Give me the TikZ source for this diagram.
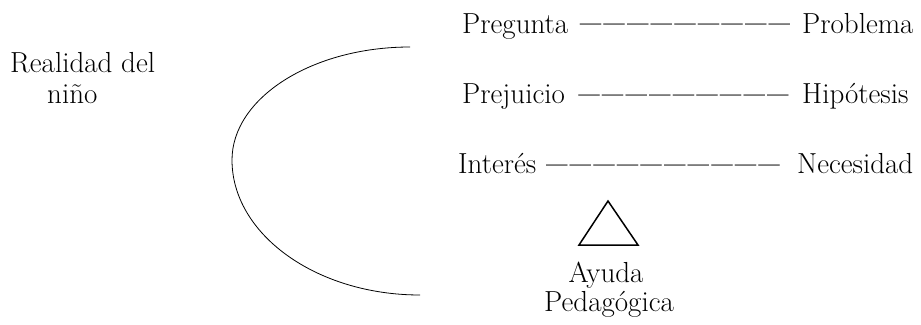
\documentclass[tikz,border=0pt]{standalone}
\usepackage{graphicx}
\newcommand{\emd}{\makebox[23.6pt][c]{\resizebox{21.5pt}{\height}{\bfseries ---}}}
\begin{document}
\begin{tikzpicture}[x=1pt,y=-1pt,
  lbl/.style={inner sep=0pt, font=\fontsize{29}{33}\selectfont},
  thinline/.style={line width=0.8pt},
  tri/.style={line width=1.5pt, line join=miter}]
\useasboundingbox (0,0) rectangle (921,324);
% left label
\node[lbl, anchor=base west] (real) at (10,72) {Realidad del};
\node[lbl, anchor=base west] (nino) at (47,103) {niño};
% rows
\node[lbl, anchor=base west] (preg) at (462,33) {Pregunta};
\node[lbl, anchor=base] (d1) at (685,33) {\emd\emd\emd\emd\emd\emd\emd\emd\emd};
\node[lbl, anchor=base west] (prob) at (802,33) {Problema};
\node[lbl, anchor=base west] (prej) at (462,103) {Prejuicio};
\node[lbl, anchor=base] (d2) at (683.5,103) {\emd\emd\emd\emd\emd\emd\emd\emd\emd};
\node[lbl, anchor=base west] (hipo) at (802,103) {Hipótesis};
\node[lbl, anchor=base west] (inte) at (458,173) {Interés};
\node[lbl, anchor=base] (d3) at (663,173) {\emd\emd\emd\emd\emd\emd\emd\emd\emd\emd};
\node[lbl, anchor=base west] (nece) at (797,173) {Necesidad};
% triangle
\coordinate (ta) at (608,201);
\coordinate (tl) at (579,245);
\coordinate (tr) at (638,245);
\draw[tri] (ta) -- (tl) -- (tr) -- cycle;
\node[lbl, anchor=base] (ayu) at (606,282) {Ayuda};
\node[lbl, anchor=base] (ped) at (609,311) {Pedagógica};
% arc
\coordinate (atop) at (410,47);
\coordinate (aleft) at (232,160);
\coordinate (abot) at (420,295);
\draw[thinline] (atop) .. controls (312,47) and (232,98) .. (aleft)
  .. controls (232,234) and (316,295) .. (abot);
\end{tikzpicture}
\end{document}
